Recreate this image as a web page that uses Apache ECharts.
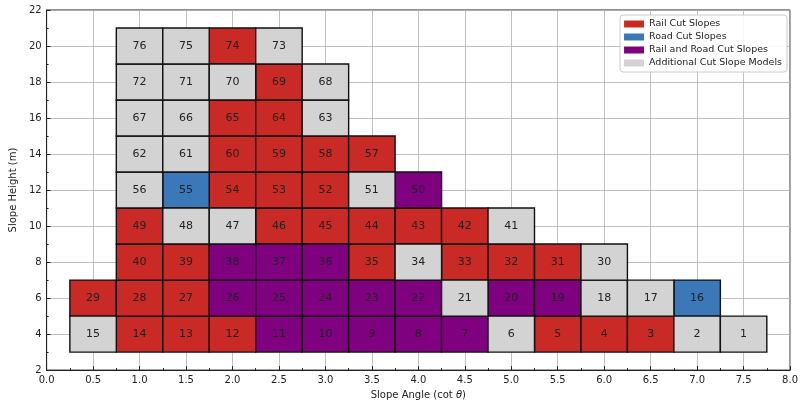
<!DOCTYPE html>
<html>
<head>
<meta charset="utf-8">
<script src="https://cdn.jsdelivr.net/npm/echarts@6/dist/echarts.min.js"></script>
<style>html,body{margin:0;padding:0;background:#fff;}#c{width:801px;height:405px;}</style>
</head>
<body>
<div id="c"></div>
<script>
// Category names
const typeNames = {R:'Rail Cut Slopes', B:'Road Cut Slopes', P:'Rail and Road Cut Slopes', A:'Additional Cut Slope Models'};
const typeOrder = ['R','B','P','A'];
// Cell data: slope angle (cot θ), slope height (m), model id, type
const angles = [
  0.5,1.0,1.5,2.0,2.5,3.0,3.5,4.0,4.5,5.0,5.5,6.0,6.5,7.0,7.5,
  0.5,1.0,1.5,2.0,2.5,3.0,3.5,4.0,4.5,5.0,5.5,6.0,6.5,7.0,
  1.0,1.5,2.0,2.5,3.0,3.5,4.0,4.5,5.0,5.5,6.0,
  1.0,1.5,2.0,2.5,3.0,3.5,4.0,4.5,5.0,
  1.0,1.5,2.0,2.5,3.0,3.5,4.0,
  1.0,1.5,2.0,2.5,3.0,3.5,
  1.0,1.5,2.0,2.5,3.0,
  1.0,1.5,2.0,2.5,3.0,
  1.0,1.5,2.0,2.5
];
const heights = [
  4,4,4,4,4,4,4,4,4,4,4,4,4,4,4,
  6,6,6,6,6,6,6,6,6,6,6,6,6,6,
  8,8,8,8,8,8,8,8,8,8,8,
  10,10,10,10,10,10,10,10,10,
  12,12,12,12,12,12,12,
  14,14,14,14,14,14,
  16,16,16,16,16,
  18,18,18,18,18,
  20,20,20,20
];
const ids = [
  15,14,13,12,11,10,9,8,7,6,5,4,3,2,1,
  29,28,27,26,25,24,23,22,21,20,19,18,17,16,
  40,39,38,37,36,35,34,33,32,31,30,
  49,48,47,46,45,44,43,42,41,
  56,55,54,53,52,51,50,
  62,61,60,59,58,57,
  67,66,65,64,63,
  72,71,70,69,68,
  76,75,74,73
];
const types = [
  'A','R','R','R','P','P','P','P','P','A','R','R','R','A','A',
  'R','R','R','P','P','P','P','P','A','P','P','A','A','B',
  'R','R','P','P','P','R','A','R','R','R','A',
  'R','A','A','R','R','R','R','R','A',
  'A','B','R','R','R','A','P',
  'A','A','R','R','R','R',
  'A','A','R','R','A',
  'A','A','A','R','A',
  'A','A','R','A'
];
const xTicks = [0,0.5,1,1.5,2,2.5,3,3.5,4,4.5,5,5.5,6,6.5,7,7.5,8];
const yTicks = [2,4,6,8,10,12,14,16,18,20,22];

const colors = {R:'#c92a25', B:'#3a78b9', P:'#7f0180', A:'#d3d3d3'};
const CW = 0.5, CH = 2;

function renderItem(params, api) {
  const x = api.value(0), y = api.value(1);
  const p0 = api.coord([x - CW/2, y + CH/2]);
  const p1 = api.coord([x + CW/2, y - CH/2]);
  return {
    type: 'group',
    children: [{
      type: 'rect',
      shape: {x: p0[0], y: p0[1], width: p1[0]-p0[0], height: p1[1]-p0[1]},
      style: {fill: api.visual('color'), stroke: '#111', lineWidth: 1.4}
    }, {
      type: 'text',
      x: (p0[0]+p1[0])/2, y: (p0[1]+p1[1])/2,
      style: {text: String(api.value(2)), fill: '#222', fontSize: 11, fontFamily: 'DejaVu Sans', align: 'center', verticalAlign: 'middle'}
    }]
  };
}

const series = typeOrder.map(t => ({
  type: 'custom',
  name: typeNames[t],
  itemStyle: {color: colors[t]},
  renderItem: renderItem,
  encode: {x: 0, y: 1},
  data: angles.map((a, i) => [a, heights[i], ids[i], types[i]]).filter(d => d[3] === t)
}));

const chart = echarts.init(document.getElementById('c'), null, {renderer: 'canvas'});
const axisFont = {fontFamily: 'DejaVu Sans', fontSize: 10, color: '#222'};
chart.setOption({
  animation: false,
  backgroundColor: '#fff',
  grid: {left: 45, right: 6, top: 10, bottom: 31, show: true, borderColor: '#222', borderWidth: 1},
  legend: {
    orient: 'vertical', right: 14, top: 15,
    data: typeOrder.map(t => ({name: typeNames[t], icon: 'rect'})),
    itemWidth: 20, itemHeight: 7, itemGap: 3,
    textStyle: {fontFamily: 'DejaVu Sans', fontSize: 9.5, color: '#222'},
    backgroundColor: 'rgba(255,255,255,0.9)', borderColor: '#ccc', borderWidth: 1, borderRadius: 3,
    padding: [4, 5, 4, 4]
  },
  xAxis: {
    type: 'value', min: xTicks[0], max: xTicks[xTicks.length-1], interval: 0.5,
    name: 'Slope Angle (cot {i|θ})', nameLocation: 'middle', nameGap: 18,
    nameTextStyle: {fontFamily: 'DejaVu Sans', fontSize: 10, color: '#222', rich: {i: {fontStyle: 'italic', fontFamily: 'DejaVu Sans', fontSize: 10}}},
    axisLine: {show: true, lineStyle: {color: '#222', width: 1}},
    axisTick: {show: true, inside: true, length: 4, lineStyle: {color: '#222'}},
    minorTick: {show: true, splitNumber: 2, length: 2, lineStyle: {color: '#222'}},
    axisLabel: Object.assign({margin: 5, formatter: v => v.toFixed(1)}, axisFont),
    splitLine: {show: true, lineStyle: {color: '#b0b0b0', width: 0.8}}
  },
  yAxis: {
    type: 'value', min: yTicks[0], max: yTicks[yTicks.length-1], interval: 2,
    name: 'Slope Height (m)', nameLocation: 'middle', nameGap: 22,
    nameTextStyle: {fontFamily: 'DejaVu Sans', fontSize: 10, color: '#222'},
    axisLine: {show: true, lineStyle: {color: '#222', width: 1}},
    axisTick: {show: true, inside: true, length: 4, lineStyle: {color: '#222'}},
    minorTick: {show: true, splitNumber: 2, length: 2, lineStyle: {color: '#222'}},
    axisLabel: Object.assign({margin: 5}, axisFont),
    splitLine: {show: true, lineStyle: {color: '#b0b0b0', width: 0.8}}
  },
  series: series
});
</script>
</body>
</html>
